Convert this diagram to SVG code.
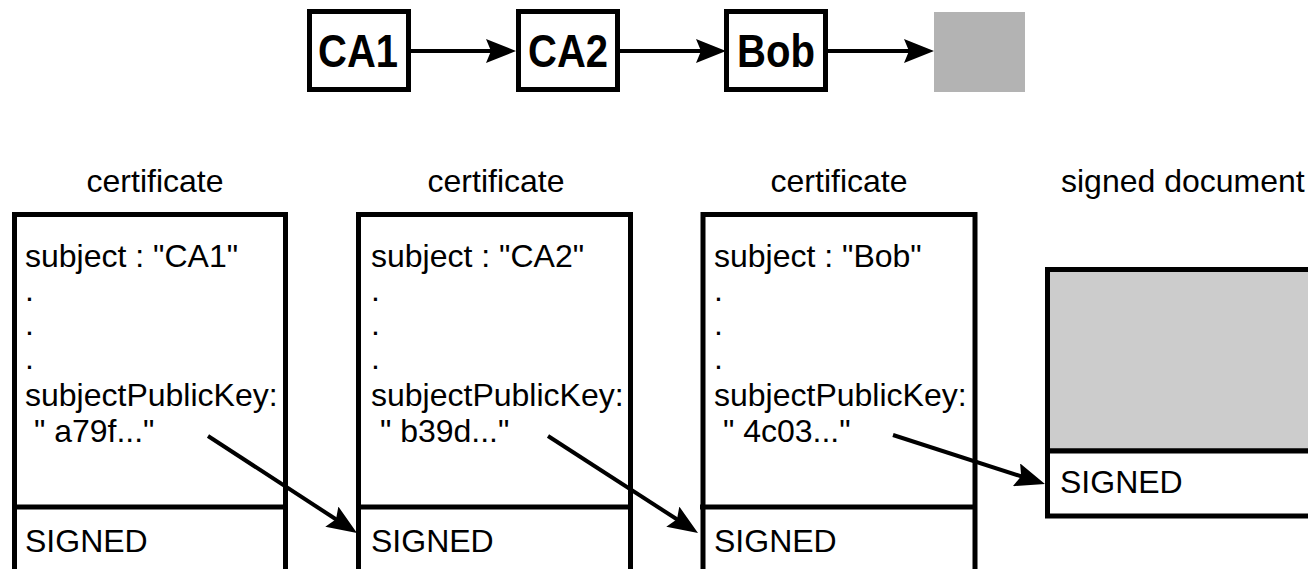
<svg xmlns="http://www.w3.org/2000/svg" width="1308" height="569" viewBox="0 0 1308 569">
  <defs>
    <style>
      .box { fill: #ffffff; stroke: #000000; stroke-width: 5; }
      .rule { stroke: #000000; stroke-width: 5; }
      .edge { stroke: #000000; stroke-width: 4; fill: none; marker-end: url(#head); }
      .name { font-family: "Liberation Sans", Arial, sans-serif; font-weight: bold; font-size: 46px; text-anchor: middle; fill: #000000; }
      .txt { font-family: "Liberation Sans", Arial, sans-serif; font-size: 32px; fill: #000000; }
      .cap { font-family: "Liberation Sans", Arial, sans-serif; font-size: 32px; text-anchor: middle; fill: #000000; }
    </style>
    <marker id="head" markerUnits="userSpaceOnUse" viewBox="0 0 30 24" markerWidth="30" markerHeight="24" refX="15" refY="12" orient="auto">
      <path d="M0,0 L30,12 L0,24 L5,12 Z" fill="#000000"/>
    </marker>
  </defs>
  <rect width="1308" height="569" fill="#ffffff"/>

  <!-- chain of signers -->
  <g id="chain-ca1">
    <rect class="box" x="309.5" y="11.5" width="99" height="78"/>
    <text class="name" x="358" y="67" textLength="80" lengthAdjust="spacingAndGlyphs">CA1</text>
  </g>
  <g id="chain-ca2">
    <rect class="box" x="518.5" y="11.5" width="99" height="78"/>
    <text class="name" x="568" y="67" textLength="80" lengthAdjust="spacingAndGlyphs">CA2</text>
  </g>
  <g id="chain-bob">
    <rect class="box" x="726.5" y="11.5" width="99" height="78"/>
    <text class="name" x="776" y="67" textLength="78" lengthAdjust="spacingAndGlyphs">Bob</text>
  </g>
  <g id="chain-doc">
    <rect x="934" y="12" width="91" height="80" fill="#b3b3b3"/>
  </g>

  <!-- certificates -->
  <g id="cert-ca1">
    <text class="cap" x="155" y="192">certificate</text>
    <rect class="box" x="14.5" y="214.5" width="271" height="380"/>
    <line class="rule" x1="12" y1="507" x2="288" y2="507"/>
    <text class="txt" x="25" y="267">subject : "CA1"</text>
    <text class="txt" x="25" y="301">.</text>
    <text class="txt" x="25" y="335">.</text>
    <text class="txt" x="25" y="369">.</text>
    <text class="txt" x="25" y="406">subjectPublicKey:</text>
    <text class="txt" x="25" y="442" xml:space="preserve"> " a79f..."</text>
    <text class="txt" x="25" y="552">SIGNED</text>
  </g>
  <g id="cert-ca2">
    <text class="cap" x="496" y="192">certificate</text>
    <rect class="box" x="358.5" y="214.5" width="272" height="380"/>
    <line class="rule" x1="356" y1="507" x2="633" y2="507"/>
    <text class="txt" x="371" y="267">subject : "CA2"</text>
    <text class="txt" x="371" y="301">.</text>
    <text class="txt" x="371" y="335">.</text>
    <text class="txt" x="371" y="369">.</text>
    <text class="txt" x="371" y="406">subjectPublicKey:</text>
    <text class="txt" x="371" y="442" xml:space="preserve"> " b39d..."</text>
    <text class="txt" x="371" y="552">SIGNED</text>
  </g>
  <g id="cert-bob">
    <text class="cap" x="839" y="192">certificate</text>
    <rect class="box" x="703" y="214.5" width="272" height="380"/>
    <line class="rule" x1="700" y1="507" x2="977" y2="507"/>
    <text class="txt" x="714" y="267">subject : "Bob"</text>
    <text class="txt" x="714" y="301">.</text>
    <text class="txt" x="714" y="335">.</text>
    <text class="txt" x="714" y="369">.</text>
    <text class="txt" x="714" y="406">subjectPublicKey:</text>
    <text class="txt" x="714" y="442" xml:space="preserve"> " 4c03..."</text>
    <text class="txt" x="714" y="552">SIGNED</text>
  </g>

  <!-- signed document -->
  <g id="signed-doc">
    <text class="txt" x="1061" y="192">signed document</text>
    <rect x="1047.5" y="269.5" width="300" height="181.5" fill="#cccccc" stroke="#000000" stroke-width="5"/>
    <rect class="box" x="1047.5" y="451" width="300" height="65"/>
    <text class="txt" x="1060" y="493">SIGNED</text>
  </g>

  <!-- connectors -->
  <g id="connectors">
    <line class="edge" x1="411" y1="51" x2="501" y2="51"/>
    <line class="edge" x1="620" y1="51" x2="711" y2="51"/>
    <line class="edge" x1="828" y1="51" x2="919" y2="51"/>
    <line class="edge" x1="208" y1="436" x2="344.4" y2="524.8"/>
    <line class="edge" x1="548" y1="436" x2="685.4" y2="524.8"/>
    <line class="edge" x1="893" y1="435" x2="1030.7" y2="479.4"/>
  </g>
</svg>
